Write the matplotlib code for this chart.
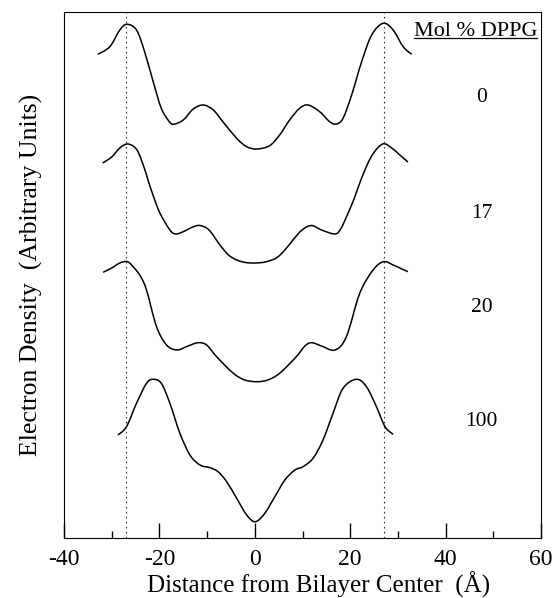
import numpy as np
import matplotlib
matplotlib.use("Agg")
import matplotlib.pyplot as plt
from matplotlib.path import Path
from matplotlib.patches import PathPatch
from matplotlib.ticker import MultipleLocator

plt.rcParams['font.family'] = ['Liberation Serif', 'DejaVu Serif']
plt.rcParams['axes.unicode_minus'] = False

# electron density profiles (distance in A, density in arbitrary units,
# relative to the value at the bilayer center)
z_0 = [-32.9, -30.4, -28.3, -26.8, -24.8, -23.1, -21.3, -19.6, -17.8, -16.8, -15.0, -12.9,
       -10.8, -8.7, -6.6, -3.8, -1.7, 0.4, 3.1, 5.2, 7.3, 9.4, 11.2, 13.6, 15.7, 17.1, 18.5,
       20.3, 22.4, 24.5, 26.9, 29.0, 31.1, 32.9]
rho_0 = [9.47, 10.23, 11.9, 12.47, 11.9, 9.73, 6.73, 4.07, 2.67, 2.5, 2.9, 4.0,
         4.4, 3.9, 2.67, 1.07, 0.23, 0.0, 0.33, 1.4, 2.9, 4.07, 4.4, 3.73, 2.73, 2.5, 3.07,
         5.4, 8.73, 11.4, 12.57, 11.9, 10.23, 9.47]

z_17 = [-31.9, -30.0, -28.3, -26.6, -24.7, -23.1, -22.4, -21.2, -19.9, -17.8, -16.5, -14.7,
        -13.0, -11.5, -9.6, -7.3, -5.5, -3.8, -1.9, 0.0, 2.2, 4.5, 6.3, 8.0, 9.9, 11.9, 14.0,
        16.8, 18.0, 19.2, 20.8, 22.4, 24.5, 26.8, 28.7, 30.4, 32.1]
rho_17 = [10.0, 10.6, 11.5, 11.9, 11.3, 9.4, 8.3, 6.6, 5.0, 3.3, 2.9, 3.2,
          3.6, 3.75, 3.3, 1.8, 0.8, 0.3, 0.05, 0.0, 0.1, 0.5, 1.3, 2.3, 3.3, 3.75, 3.3,
          2.9, 3.4, 4.6, 6.4, 8.5, 10.7, 11.9, 11.5, 10.8, 10.1]

z_20 = [-31.8, -30.0, -28.3, -26.7, -25.4, -24.0, -22.7, -20.6, -18.5, -16.3, -14.0, -11.9,
        -10.1, -8.0, -4.5, -2.1, 0.4, 2.7, 5.2, 8.7, 10.5, 11.9, 14.0, 16.8, 19.2, 22.0,
        24.8, 27.0, 29.0, 30.4, 32.1]
rho_20 = [10.97, 11.4, 11.9, 12.03, 11.47, 10.6, 9.2, 5.53, 3.7, 3.2, 3.6, 3.93,
          3.7, 2.53, 0.87, 0.2, 0.03, 0.2, 0.87, 2.53, 3.6, 3.93, 3.6, 3.2, 4.53, 8.87,
          11.2, 12.03, 11.7, 11.4, 11.03]

z_100 = [-28.7, -26.9, -24.8, -22.7, -21.3, -19.6, -17.8, -15.7, -13.6, -11.5, -9.4, -7.7,
         -5.9, -3.8, -1.7, 0.1, 2.1, 4.2, 6.3, 8.4, 10.1, 12.2, 14.3, 16.4, 18.5, 21.3,
         23.4, 25.5, 27.3, 29.0]
rho_100 = [8.67, 9.5, 11.84, 13.84, 14.24, 13.84, 11.84, 8.84, 6.67, 5.67, 5.4, 5.0,
           4.0, 2.34, 0.67, 0.0, 0.84, 2.5, 4.17, 5.17, 5.5, 6.34, 8.17, 10.84, 13.34, 14.24,
           13.5, 11.5, 9.5, 8.74]

mol_pct = ["0", "17", "20", "100"]
offsets = [38.9, 27.5, 15.6, 1.63]      # vertical stacking of the traces
label_y = [44.0, 32.5, 23.1, 11.6]
phosphate_peaks = [-27, 27]

profiles = [(z_0, rho_0), (z_17, rho_17), (z_20, rho_20), (z_100, rho_100)]


def smooth_path(x, y):
    # smooth line through the read points (Catmull-Rom drawn as cubic Bezier segments)
    p = np.column_stack([x, y])
    ext = np.vstack([p[0], p, p[-1]])
    verts = [p[0]]
    codes = [Path.MOVETO]
    for i in range(1, len(ext) - 2):
        c1 = ext[i] + (ext[i + 1] - ext[i - 1]) / 6
        c2 = ext[i + 1] - (ext[i + 2] - ext[i]) / 6
        verts += [c1, c2, ext[i + 1]]
        codes += [Path.CURVE4] * 3
    return Path(verts, codes)


fig = plt.figure(figsize=(5.57, 5.98), dpi=100)
ax = fig.add_axes([64/557, 1 - 538/598, (541-64)/557, (538-12)/598])
ax.set_xlim(-40, 60)
ax.set_ylim(0, 52.6)

for (z, rho), off in zip(profiles, offsets):
    ax.add_patch(PathPatch(smooth_path(z, np.array(rho) + off), fill=False,
                           edgecolor='black', lw=1.1))

for zp in phosphate_peaks:
    ax.axvline(zp, color='#333333', lw=0.8, ls=(0, (1.5, 3)))

for lab, yy in zip(mol_pct, label_y):
    ax.text(47.6, yy, lab, ha='center', va='center', fontsize=15.5)

hdr = ax.text(46.3, 50.7, "Mol % DPPG", ha='center', va='center', fontsize=16)

ax.xaxis.set_major_locator(MultipleLocator(20))
ax.xaxis.set_minor_locator(MultipleLocator(10))
ax.set_yticks([])
ax.tick_params(axis='x', which='both', direction='in', top=False, labelsize=17, pad=8)
ax.tick_params(axis='x', which='major', length=11, width=1)
ax.tick_params(axis='x', which='minor', length=5, width=1)

ax.set_xlabel("Distance from Bilayer Center  (Å)", fontsize=18, labelpad=1)
ax.xaxis.set_label_coords(0.533, -0.064)
ax.set_ylabel("Electron Density  (Arbitrary Units)", fontsize=18.5, labelpad=15)

fig.canvas.draw()
bb = hdr.get_window_extent().transformed(ax.transAxes.inverted())
ax.plot([bb.x0, bb.x1], [bb.y0 + 0.004, bb.y0 + 0.004], transform=ax.transAxes,
        color='black', lw=0.9, clip_on=False)

fig.savefig("out.png", dpi=100)
